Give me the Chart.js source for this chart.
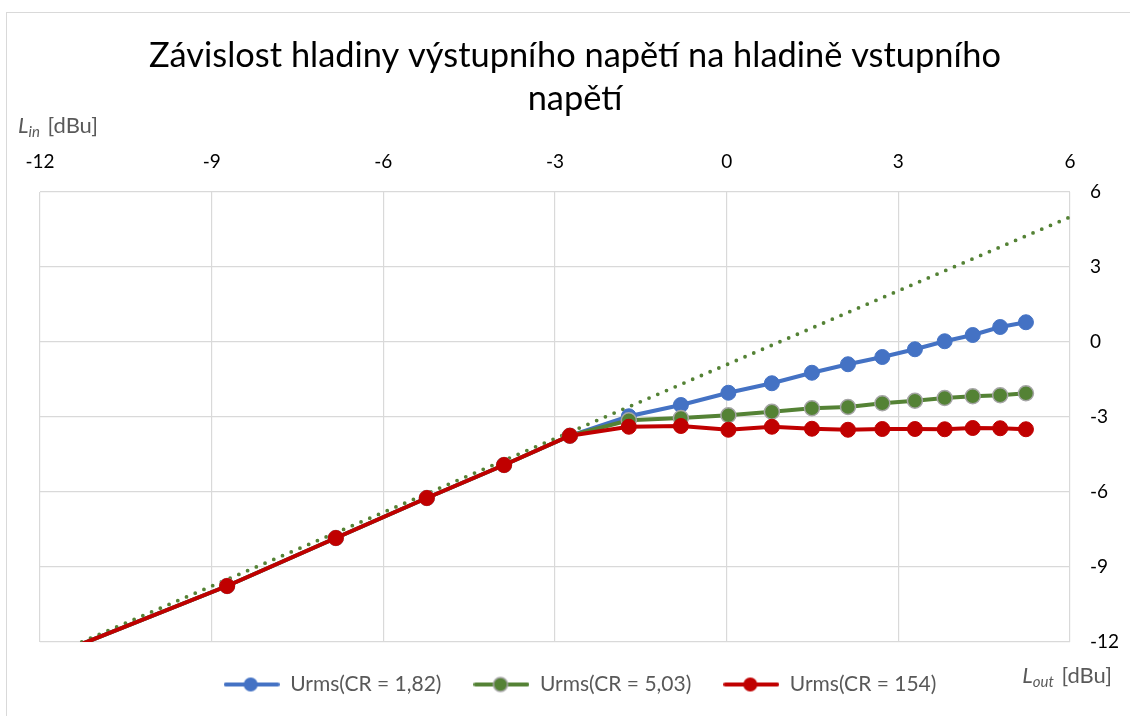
<!DOCTYPE html>
<html lang="cs">
<head>
<meta charset="utf-8">
<title>Závislost hladiny výstupního napětí na hladině vstupního napětí</title>
<script src="https://cdn.jsdelivr.net/npm/chart.js@4.4.1/dist/chart.umd.min.js"></script>
<style>
  html, body { margin: 0; padding: 0; background: #fff; }
  #wrap { width: 1130px; height: 716px; }
</style>
</head>
<body>
<div id="wrap"><canvas id="chart" width="1130" height="716"></canvas></div>
<script>
// vstupní hladina (osa x) – společná pro všechny řady
const lIn = [-12.5, -8.73, -6.83, -5.24, -3.89, -2.74, -1.71, -0.80, 0.03, 0.79, 1.49, 2.12, 2.72, 3.29, 3.81, 4.30, 4.78, 5.23];

// výstupní hladiny jednotlivých řad
const lOutCr182 = [-13.2, -9.76, -7.84, -6.24, -4.92, -3.75, -2.97, -2.52, -2.03, -1.65, -1.23, -0.89, -0.60, -0.29, 0.03, 0.28, 0.60, 0.79];
const lOutCr503 = [-13.2, -9.76, -7.84, -6.24, -4.92, -3.75, -3.13, -3.04, -2.93, -2.79, -2.65, -2.60, -2.45, -2.35, -2.24, -2.17, -2.13, -2.05];
const lOutCr154 = [-13.2, -9.76, -7.84, -6.24, -4.92, -3.75, -3.39, -3.36, -3.51, -3.39, -3.47, -3.51, -3.48, -3.48, -3.49, -3.44, -3.45, -3.49];

// tečkovaná přímka (spojnice trendu)
const trendIn = [-11.27, 6];
const trendOut = [-12, 5];

const seriesNames = ['Urms(CR = 1,82)', 'Urms(CR = 5,03)', 'Urms(CR = 154)'];
const titleLines = ['Závislost hladiny výstupního napětí na hladině vstupního', 'napětí'];
const axisMin = -12, axisMax = 6, axisStep = 3;

const BLUE = '#4472C4', GREEN = '#548235', RED = '#C00000', GREY = '#A5A5A5';
const FONT = 'Lato';

function toPoints(xs, ys) {
    return xs.map((x, i) => ({ x: x, y: ys[i] }));
}

// ikonka do legendy: čára s kolečkem uprostřed
function legendIcon(color, border) {
    const c = document.createElement('canvas');
    c.width = 56; c.height = 18;
    const g = c.getContext('2d');
    g.strokeStyle = color;
    g.lineWidth = 4;
    g.lineCap = 'round';
    g.beginPath();
    g.moveTo(2, 9); g.lineTo(54, 9);
    g.stroke();
    g.beginPath();
    g.arc(27, 9, 7, 0, Math.PI * 2);
    g.fillStyle = color;
    g.fill();
    if (border) {
        g.lineWidth = 1.5;
        g.strokeStyle = border;
        g.stroke();
    }
    return c;
}
const icons = [legendIcon(BLUE), legendIcon(GREEN, GREY), legendIcon(RED)];

// titulek, popisky os a rámeček
const decorations = {
    id: 'decorations',
    afterDraw(chart) {
        const ctx = chart.ctx;
        ctx.save();

        // rámeček grafu
        ctx.strokeStyle = '#d9d9d9';
        ctx.lineWidth = 1;
        ctx.strokeRect(6.5, 12.5, 1140, 720);

        // titulek – velikost písma podle šířky prvního řádku
        ctx.font = '100px ' + FONT;
        const w = ctx.measureText(titleLines[0]).width;
        const size = 100 * 852 / w;
        ctx.font = size.toFixed(1) + 'px ' + FONT;
        ctx.fillStyle = '#000';
        ctx.textAlign = 'center';
        ctx.textBaseline = 'alphabetic';
        ctx.fillText(titleLines[0], 575, 67);
        ctx.fillText(titleLines[1], 575, 110);

        // popisky os
        drawAxisTitle(ctx, 'in', 18, 133, 'left');
        drawAxisTitle(ctx, 'out', 1112, 683, 'right');
        ctx.restore();
    }
};

function drawAxisTitle(ctx, sub, x, y, align) {
    const main = 'italic 22px ' + FONT;
    const small = 'italic 15px ' + FONT;
    const norm = '22px ' + FONT;
    ctx.textAlign = 'left';
    ctx.textBaseline = 'alphabetic';
    ctx.font = main; const wL = ctx.measureText('L').width;
    ctx.font = small; const wS = ctx.measureText(sub).width;
    ctx.font = norm; const wU = ctx.measureText(' [dBu]').width;
    let sx = align === 'right' ? x - (wL + wS + 2 + wU) : x;
    ctx.fillStyle = '#595959';
    ctx.font = main; ctx.fillText('L', sx, y);
    ctx.font = small; ctx.fillText(sub, sx + wL, y + 4);
    ctx.font = norm; ctx.fillText(' [dBu]', sx + wL + wS + 2, y);
}

const lineDataset = (label, data, color, border, order) => ({
    label: label,
    data: data,
    showLine: true,
    borderColor: color,
    backgroundColor: color,
    borderWidth: 4,
    pointRadius: 7.5,
    pointHoverRadius: 7.5,
    pointBackgroundColor: color,
    pointBorderColor: border || color,
    pointBorderWidth: border ? 1.5 : 1,
    tension: 0,
    order: order
});

const tickFont = { family: FONT, size: 19 };

new Chart(document.getElementById('chart'), {
    type: 'scatter',
    data: {
        datasets: [
            lineDataset(seriesNames[0], toPoints(lIn, lOutCr182), BLUE, null, 2),
            lineDataset(seriesNames[1], toPoints(lIn, lOutCr503), GREEN, GREY, 1),
            lineDataset(seriesNames[2], toPoints(lIn, lOutCr154), RED, null, 0),
            {
                label: 'trend',
                data: toPoints(trendIn, trendOut),
                showLine: true,
                borderColor: GREEN,
                borderWidth: 3.8,
                borderDash: [0, 9.5],
                borderCapStyle: 'round',
                pointRadius: 0,
                pointHoverRadius: 0,
                order: 3
            }
        ]
    },
    options: {
        responsive: false,
        animation: false,
        layout: { padding: { top: 152, left: 40, right: 10, bottom: 11 } },
        scales: {
            x: {
                type: 'linear',
                position: 'top',
                min: axisMin, max: axisMax,
                ticks: { stepSize: axisStep, padding: 19, color: '#000', font: tickFont },
                grid: { color: '#d9d9d9', lineWidth: 1.2, drawTicks: false },
                border: { display: false },
                afterFit(scale) { scale.height = 40; }
            },
            y: {
                type: 'linear',
                position: 'right',
                min: axisMin, max: axisMax,
                ticks: { stepSize: axisStep, padding: 20, color: '#000', font: tickFont },
                grid: { color: '#d9d9d9', lineWidth: 1.2, drawTicks: false },
                border: { display: false },
                afterFit(scale) { scale.width = 50; }
            }
        },
        plugins: {
            title: { display: false },
            tooltip: { enabled: false },
            legend: {
                position: 'bottom',
                labels: {
                    usePointStyle: true,
                    pointStyleWidth: 56,
                    padding: 32,
                    color: '#595959',
                    font: { family: FONT, size: 21 },
                    filter: item => item.datasetIndex < 3,
                    sort: (a, b) => a.datasetIndex - b.datasetIndex,
                    generateLabels(chart) {
                        const items = Chart.defaults.plugins.legend.labels.generateLabels(chart);
                        items.forEach(it => {
                            if (it.datasetIndex < 3) it.pointStyle = icons[it.datasetIndex];
                        });
                        return items;
                    }
                }
            }
        }
    },
    plugins: [decorations]
});
</script>
</body>
</html>
